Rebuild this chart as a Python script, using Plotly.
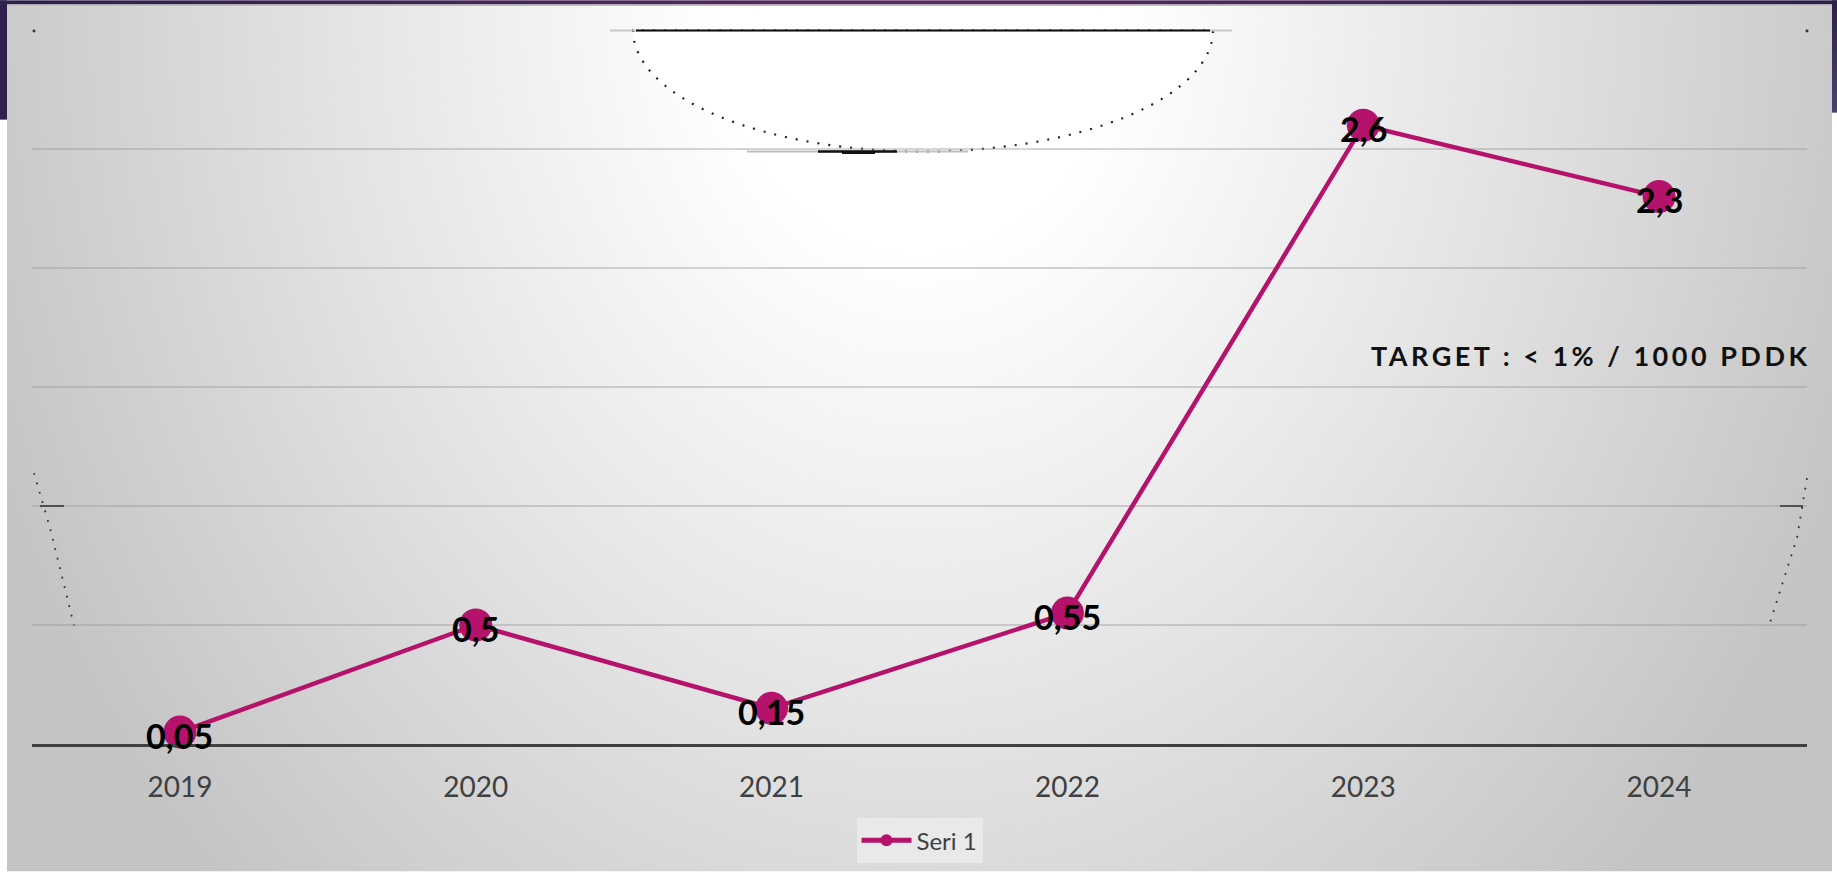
import base64
import plotly.graph_objects as go

# ---- data ----
years = ["2019", "2020", "2021", "2022", "2023", "2024"]
values = [0.05, 0.5, 0.15, 0.55, 2.6, 2.3]
labels = ["0,05", "0,5", "0,15", "0,55", "2,6", "2,3"]
series_name = "Seri 1"
target_text = "TARGET : < 1% / 1000 PDDK"

W, H = 1837, 875
L, R, T, B = 32, 30, 30, 128
PW, PH = W - L - R, H - T - B


def px2x(px):
    return (px - L) / PW


def py2y(py):
    return (H - B - py) / PH


svg = f"""<svg xmlns="http://www.w3.org/2000/svg" width="{W}" height="{H}" viewBox="0 0 {W} {H}" preserveAspectRatio="none">
<defs>
<radialGradient id="bg" gradientUnits="userSpaceOnUse" cx="919" cy="0" r="1000" gradientTransform="translate(919 0) scale(1 1.25) translate(-919 0)">
<stop offset="0.2" stop-color="#ffffff"/>
<stop offset="0.55" stop-color="#e6e6e6"/>
<stop offset="1" stop-color="#c4c4c4"/>
</radialGradient>
<linearGradient id="top" x1="0" y1="0" x2="1" y2="0">
<stop offset="0" stop-color="#2c1f4d"/>
<stop offset="0.5" stop-color="#5b2a5f"/>
<stop offset="1" stop-color="#2c2048"/>
</linearGradient>
<linearGradient id="side" x1="0" y1="0" x2="0" y2="1">
<stop offset="0" stop-color="#2c2048"/>
<stop offset="1" stop-color="#4c4270"/>
</linearGradient>
</defs>
<rect x="0" y="0" width="{W}" height="{H}" fill="#ffffff"/>
<rect x="0" y="0" width="{W}" height="5" fill="url(#top)"/>
<rect x="0" y="0" width="7" height="120" fill="#2f2050"/>
<rect x="1832" y="0" width="5" height="113" fill="url(#side)"/>
<rect x="7" y="4" width="1825" height="2" fill="#bdbdbd"/>
<rect x="7" y="6" width="1825" height="{H-6}" fill="url(#bg)"/>
<path d="M 633 30 A 290 122 0 0 0 1213 30 Z" fill="#ffffff" stroke="#222222" stroke-width="2.2" stroke-dasharray="2 9"/>
<line x1="610" y1="30.5" x2="1232" y2="30.5" stroke="#c8c8c8" stroke-width="2"/>
<line x1="636" y1="30.5" x2="1210" y2="30.5" stroke="#111111" stroke-width="2"/>
<line x1="747" y1="152" x2="968" y2="152" stroke="#c0c0c0" stroke-width="2"/>
<line x1="818" y1="152" x2="897" y2="152" stroke="#111111" stroke-width="2.5"/>
<line x1="842" y1="153" x2="875" y2="153" stroke="#111111" stroke-width="3"/>
<circle cx="34" cy="31" r="1.5" fill="#333"/>
<circle cx="1807" cy="31" r="1.5" fill="#333"/>
<path d="M 34 475 L 50 530 L 74 628" fill="none" stroke="#333" stroke-width="1.8" stroke-dasharray="1.8 8"/>
<line x1="40" y1="508" x2="64" y2="508" stroke="#222" stroke-width="2"/>
<path d="M 1807 480 L 1797 540 L 1770 625" fill="none" stroke="#333" stroke-width="1.8" stroke-dasharray="1.8 8"/>
<line x1="1780" y1="508" x2="1803" y2="508" stroke="#222" stroke-width="2"/>
</svg>"""

src = "data:image/svg+xml;base64," + base64.b64encode(svg.encode("utf-8")).decode("ascii")

LABEL_FONT = dict(family="Lato, 'DejaVu Sans', sans-serif", size=34, color="#000000", weight="bold")

fig = go.Figure()
fig.add_trace(go.Scatter(
    x=years, y=values, name=series_name,
    mode="lines+markers",
    line=dict(color="#b5126b", width=4.5),
    marker=dict(color="#b5126b", size=33),
    cliponaxis=False,
))

# data labels centred on the markers; on a category axis the annotation x is the category index
for i, (yv, tv) in enumerate(zip(values, labels)):
    fig.add_annotation(x=i, y=yv, xref="x", yref="y", text=tv, showarrow=False,
                       xanchor="center", yanchor="middle", yshift=-3,
                       font=LABEL_FONT)

fig.add_annotation(
    xref="paper", yref="paper", x=px2x(1812), y=py2y(357),
    xanchor="right", yanchor="middle", showarrow=False,
    text=f'<span style="letter-spacing:3.5px">{target_text}</span>',
    font=dict(family="Lato, 'DejaVu Sans', sans-serif", size=27, color="#111111", weight="bold"),
)

fig.update_layout(
    width=W, height=H,
    margin=dict(l=L, r=R, t=T, b=B, pad=0),
    paper_bgcolor="#ffffff",
    plot_bgcolor="rgba(0,0,0,0)",
    images=[dict(source=src, xref="paper", yref="paper",
                 x=px2x(0), y=py2y(0), sizex=W / PW, sizey=H / PH,
                 xanchor="left", yanchor="top", sizing="stretch", layer="below")],
    showlegend=True,
    legend=dict(orientation="h", xref="paper", yref="paper",
                x=0.5, y=py2y(844), xanchor="center", yanchor="middle",
                bgcolor="rgba(236,236,236,0.8)",
                font=dict(family="Lato, 'DejaVu Sans', sans-serif", size=24, color="#404040"),
                itemsizing="constant", itemwidth=50),
    xaxis=dict(type="category", range=[-0.5, 5.5], showgrid=False, zeroline=False,
               showline=True, linecolor="#404040", linewidth=3,
               ticks="", ticklabelstandoff=16,
               tickfont=dict(family="Lato, 'DejaVu Sans', sans-serif", size=28, color="#404040")),
    yaxis=dict(range=[0, 3], showticklabels=False, zeroline=False,
               tickvals=[0.5, 1.0, 1.5, 2.0, 2.5],
               showgrid=True, gridcolor="rgba(150,150,150,0.4)", gridwidth=2,
               showline=False),
)

fig.write_html("out.html", config={"displayModeBar": False},
               post_script="document.body.style.margin='0';document.body.style.overflow='hidden';")
